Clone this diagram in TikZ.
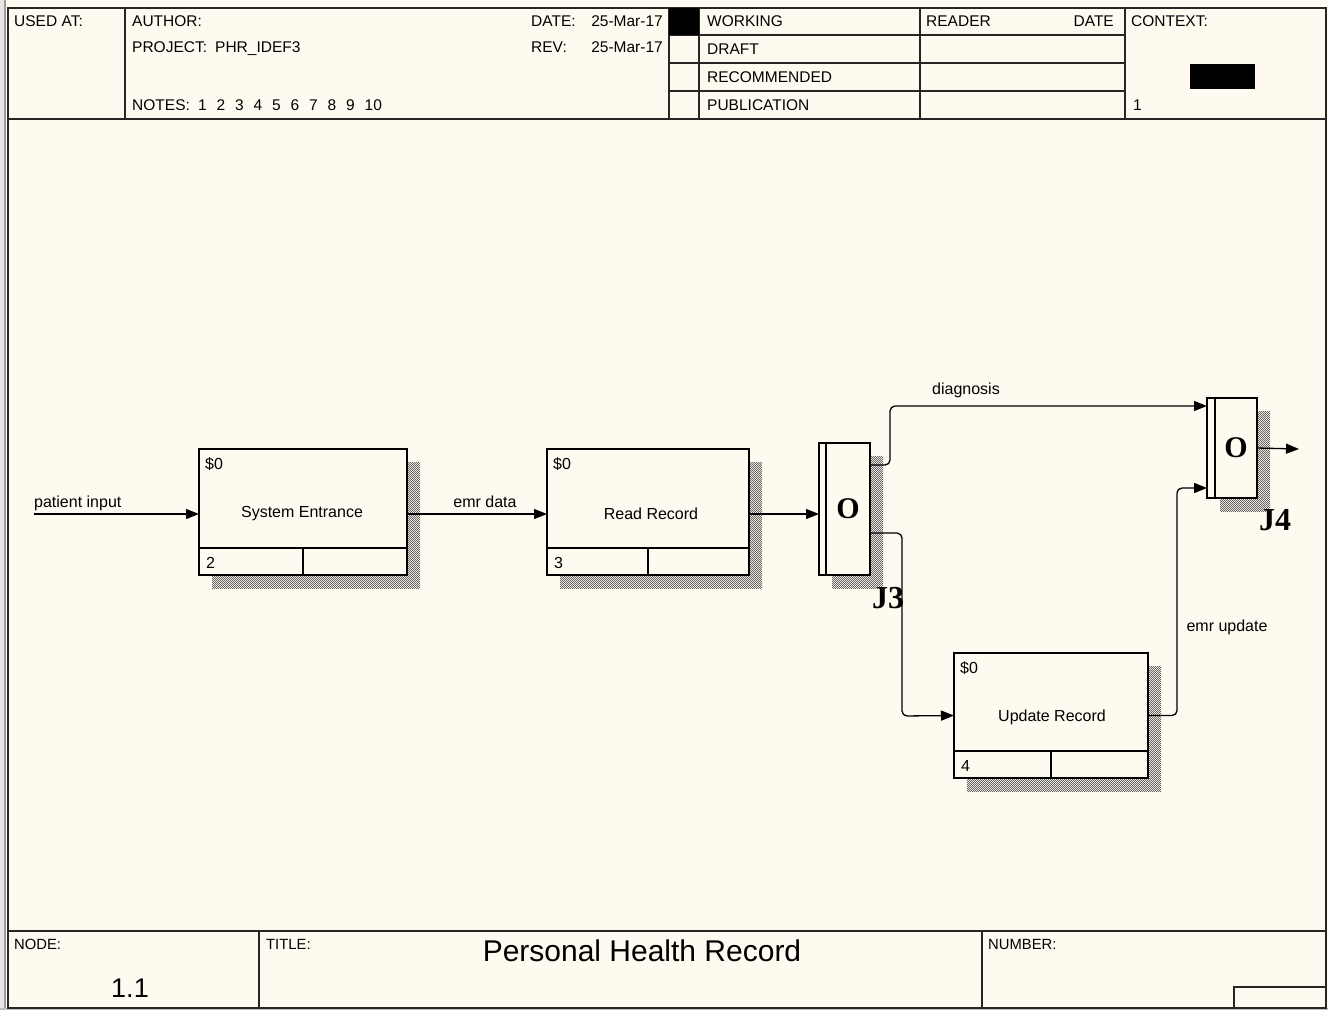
\documentclass[tikz,border=0pt]{standalone}
\usepackage{fontspec}
\setmainfont{Liberation Sans}
\newfontfamily\jfont{Liberation Serif}
\usetikzlibrary{arrows.meta,patterns,patterns.meta,shadows}
\definecolor{bgc}{HTML}{FFFAF0}
\tikzdeclarepattern{name=finecheck,type=uncolored,
  bottom left={(0pt,0pt)},top right={(2.4pt,2.4pt)},tile size={(2.4pt,2.4pt)},
  code={\fill (0pt,0pt) rectangle (1.2pt,1.2pt); \fill (1.2pt,1.2pt) rectangle (2.4pt,2.4pt);}}
\begin{document}
\begin{tikzpicture}[x=1pt,y=-1pt,
  frameline/.style={line width=2pt,draw=black!85},
  formline/.style={line width=1.4pt,draw=black!85},
  hdr/.style={font=\fontsize{15.5}{17}\selectfont,anchor=base west,inner sep=0},
  ftr/.style={font=\fontsize{14.8}{16}\selectfont,anchor=base west,inner sep=0},
  lbl/.style={font=\fontsize{16}{18}\selectfont,inner sep=0},
  shade/.style={general shadow={shadow xshift=13pt,shadow yshift=-13pt,pattern=finecheck,pattern color=black!60}},
  actbox/.style={draw,line width=2.8pt,fill=bgc,anchor=north west,inner sep=0,outer sep=0,shade},
  junc/.style={draw,line width=2.8pt,fill=bgc,anchor=north west,inner sep=0,outer sep=0,shade},
  innerline/.style={line width=2.8pt},
  stripline/.style={line width=2.4pt},
  arr/.style={-{Triangle[length=13pt,width=10pt]},line width=1.3pt,rounded corners=5pt},
  jlab/.style={font=\jfont\bfseries\fontsize{32}{34}\selectfont,inner sep=0,anchor=base},
  olab/.style={font=\jfont\bfseries\fontsize{30}{32}\selectfont,inner sep=0}
]
\useasboundingbox (0,0) rectangle (1328,1010);
\fill[bgc] (0,0) rectangle (1328,1010);
\fill[black!10] (0,0) rectangle (6,1010);
\draw[black!40,line width=1.5pt] (5,0) -- (5,1010);
\fill[black!25] (0,1008) rectangle (1328,1010);
% frame
\draw[frameline] (8,8) rectangle (1326,1008);
% header
\draw[frameline] (8,119) -- (1326,119);
\draw[formline] (125,8) -- (125,119) (669,8) -- (669,119) (699,8) -- (699,119)
  (920,8) -- (920,119) (1125,8) -- (1125,119);
\draw[formline] (669,35) -- (1125,35) (669,63) -- (1125,63) (669,91) -- (1125,91);
\fill[black] (669,8) rectangle (699,35);
\fill[black] (1190,64) rectangle (1255,89);
\node[hdr] (usedat) at (14,26.5) {USED AT:};
\node[hdr] (author) at (132,26.5) {AUTHOR:};
\node[hdr] (project) at (132,52.5) {PROJECT:};
\node[hdr] (projval) at (215,52.5) {PHR\_IDEF3};
\node[hdr] (notes) at (132,110.5) {NOTES:};
\foreach \n [count=\i from 0] in {1,2,3,4,5,6,7,8,9,10}
  \node[hdr] (note\n) at (198+18.5*\i,110.5) {\n};
\node[hdr] (date) at (531,26.5) {DATE:};
\node[hdr,anchor=base east] (dateval) at (663,26.5) {25-Mar-17};
\node[hdr] (rev) at (531,52.5) {REV:};
\node[hdr,anchor=base east] (revval) at (663,52.5) {25-Mar-17};
\node[hdr] (working) at (707,26.5) {WORKING};
\node[hdr] (draft) at (707,54.5) {DRAFT};
\node[hdr] (recom) at (707,82.5) {RECOMMENDED};
\node[hdr] (public) at (707,110.5) {PUBLICATION};
\node[hdr] (reader) at (926,26.5) {READER};
\node[hdr,anchor=base east] (rdate) at (1114,26.5) {DATE};
\node[hdr] (context) at (1131,26.5) {CONTEXT:};
\node[hdr] (ctxnum) at (1133,110.5) {1};
% footer
\draw[frameline] (8,931) -- (1326,931);
\draw[formline] (259,931) -- (259,1008) (982,931) -- (982,1008);
\draw[formline] (1234,1008) -- (1234,987) -- (1326,987);
\node[ftr] (nodelbl) at (14,949) {NODE:};
\node[ftr] (titlelbl) at (266,949) {TITLE:};
\node[ftr] (numlbl) at (988,949) {NUMBER:};
\node[inner sep=0,anchor=base,font=\fontsize{27}{29}\selectfont] (nodenum) at (130,997) {1.1};
\node[inner sep=0,anchor=base,font=\fontsize{30}{32}\selectfont] (title) at (642,961) {Personal Health Record};
% activity boxes
\node[actbox,minimum width=208pt,minimum height=126pt] (b1) at (199,449) {};
\node[actbox,minimum width=202pt,minimum height=126pt] (b2) at (547,449) {};
\node[actbox,minimum width=194pt,minimum height=125pt] (b3) at (954,653) {};
\foreach \b/\t/\n/\dx in {b1/System Entrance/2/-1,b2/Read Record/3/3,b3/Update Record/4/1}{
  \draw[stripline] ([yshift=27pt]\b.south west) -- ([yshift=27pt]\b.south east);
  \draw[stripline] (\b.south) -- ([yshift=27pt]\b.south);
  \node[lbl,anchor=base west] (\b s) at ([shift={(6pt,-20pt)}]\b.north west) {\$0};
  \node[lbl,anchor=base west] (\b n) at ([shift={(7pt,6.5pt)}]\b.south west) {\n};
  \node[lbl] (\b t) at ([shift={(\dx pt,-1.5pt)}]\b.center) {\t};
}
% junctions
\node[junc,minimum width=51pt,minimum height=132pt] (j3) at (819,443) {};
\draw[innerline] ([xshift=7pt]j3.north west) -- ([xshift=7pt]j3.south west);
\node[olab] (j3o) at ([xshift=3.5pt]j3.center) {O};
\node[jlab] (j3l) at (888,608) {J3};
\node[junc,minimum width=50pt,minimum height=100pt] (j4) at (1207,398) {};
\draw[innerline] ([xshift=8pt]j4.north west) -- ([xshift=8pt]j4.south west);
\node[olab] (j4o) at ([xshift=4pt]j4.center) {O};
\node[jlab] (j4l) at (1275,530) {J4};
% connectors
\coordinate (pin) at (34,514);
\coordinate (jout) at (1299,449);
\draw[arr] (pin) -- (pin -| b1.west);
\draw[arr] ([yshift=-2pt]b1.east) -- ([yshift=-2pt]b2.west);
\draw[arr] ([yshift=-2pt]b2.east) -- ([yshift=-2pt]b2.east -| j3.west);
\draw[arr] ([yshift=-22pt]j3.north east) -| (890,406) -- ([yshift=-8pt]j4.north west);
\draw[arr] ([yshift=-90pt]j3.north east) -| (902,716) -- (b3.west);
\draw[arr] (b3.east) -| (1177,488) -- ([yshift=-90pt]j4.north west);
\draw[arr] (j4.east) -- (jout);
% connector labels
\node[lbl,anchor=base west] (lpin) at (34,507) {patient input};
\node[lbl,anchor=base] (lemr) at (485,507) {emr data};
\node[lbl,anchor=base] (ldiag) at (966,394) {diagnosis};
\node[lbl,anchor=base] (lupd) at (1227,631) {emr update};
\end{tikzpicture}
\end{document}
